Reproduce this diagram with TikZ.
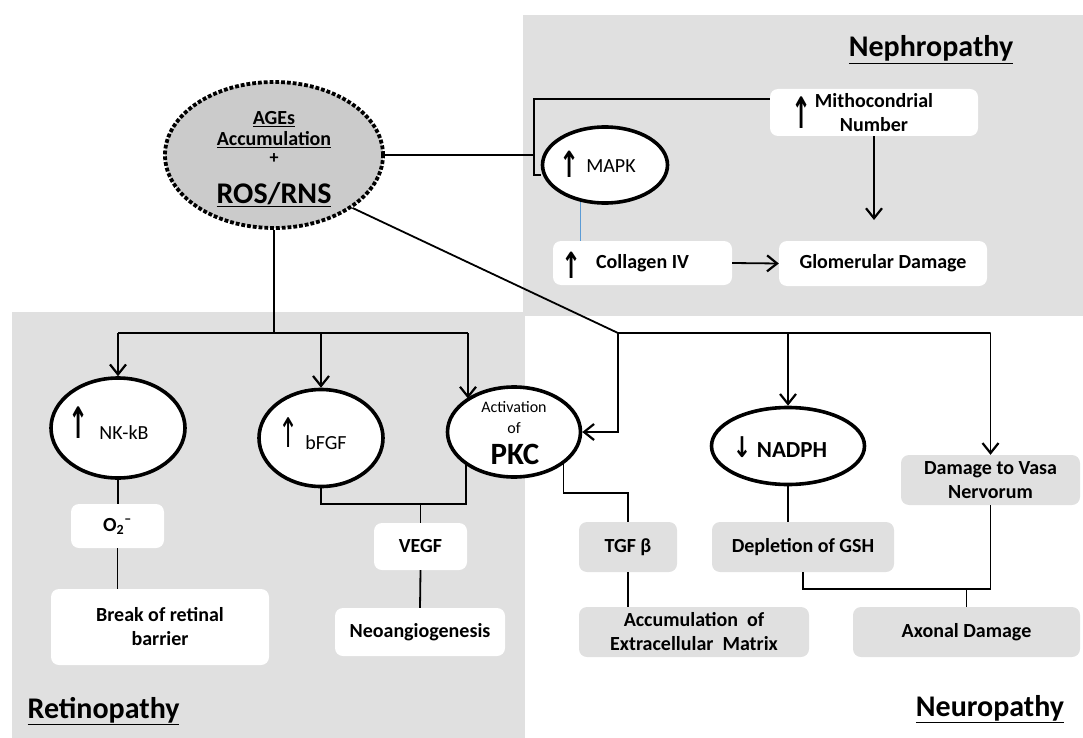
\documentclass[tikz,border=0pt]{standalone}
\usepackage{fontspec}
\setmainfont{Carlito}
\newfontfamily\djv{DejaVu Sans}
\usetikzlibrary{shapes.geometric,arrows.meta}
\definecolor{regiongray}{HTML}{E0E0E0}
\definecolor{rosgray}{HTML}{CBCBCB}
\definecolor{linkblue}{HTML}{5B9BD5}
\newcommand\fsz[2]{\fontsize{#1}{#2}\selectfont}
\newcommand\tallarrow[2]{\scalebox{1}[#1]{#2}}
\begin{document}
\begin{tikzpicture}[x=1pt,y=-1pt,
  conn/.style={line width=1.8pt},
  arr/.style={conn,-{Straight Barb[length=10pt,width=16pt,line width=2.2pt]}},
  oval/.style={ellipse,draw,line width=3.6pt,fill=white,inner sep=0pt},
  wbox/.style={rectangle,rounded corners=8pt,fill=white,inner sep=0pt,align=center,font=\fsz{20}{24}\bfseries},
  gbox/.style={wbox,fill=regiongray},
  upa/.style={inner sep=0pt,font=\fsz{24}{24}\djv\bfseries},
  lbl/.style={inner sep=0pt,anchor=base},
  region/.style={inner sep=0pt,anchor=base,font=\fsz{30}{34}\bfseries}
]
\useasboundingbox (0,0) rectangle (1083,738);
% regions
\fill[regiongray] (523,15) rectangle (1083,316);
\fill[regiongray] (12,312) rectangle (525,738);

% central node
\node[ellipse,fill=rosgray,draw,dotted,line width=3.8pt,minimum width=218pt,minimum height=146pt,inner sep=0pt] (ros) at (274,155) {};
\node[lbl,font=\fsz{20}{22}\bfseries] (agesT) at (274,125) {\underline{AGEs}};
\node[lbl,font=\fsz{20}{22}\bfseries] (accT) at (274,146) {\underline{Accumulation}};
\node[lbl,font=\fsz{18}{20}\bfseries] (plusT) at (274,164) {+};
\node[lbl,font=\fsz{30}{32}\bfseries] (rosT) at (274,203) {\underline{ROS/RNS}};

% Nephropathy
\node[region] (nephT) at (931,57) {\underline{Nephropathy}};
\node[oval,minimum width=125pt,minimum height=76pt] (mapk) at (605,165) {};
\node[upa] (mapkA) at (570,164) {\tallarrow{1.5}{↑}};
\node[lbl,font=\fsz{20}{22}] (mapkT) at (611,173) {MAPK};
\node[wbox,minimum width=208pt,minimum height=47pt] (mito) at (874,112.5) {Mithocondrial\\Number};
\node[upa] (mitoA) at (802,113) {\tallarrow{1.8}{↑}};
\node[wbox,minimum width=179pt,minimum height=44pt] (coll) at (642.5,263) {Collagen IV};
\node[upa] (collA) at (572,265) {\tallarrow{1.5}{↑}};
\node[wbox,minimum width=208pt,minimum height=45pt] (glom) at (883,263.5) {Glomerular Damage};
\coordinate (bt) at (534,99);
\coordinate (bb) at (534,175);
\coordinate (gtip) at (874,220);
\draw[conn] (ros.east) -- (ros.east -| bt);
\draw[conn] (mito.west |- bt) -- (bt) -- (bb) -- (mapk.west |- bb);
\draw[arr] (mito.south) -- (gtip);
\draw[arr] (coll.east) -- (glom.west);
\draw[linkblue,line width=1.2pt] (mapk.236) -- (mapk.236 |- coll.north);

% Retinopathy
\node[region] (retT) at (103.5,718) {\underline{Retinopathy}};
\node[oval,minimum width=134pt,minimum height=100pt] (nfkb) at (118,428) {};
\node[upa] (nfkbA) at (79,423) {\tallarrow{1.8}{↑}};
\node[lbl,font=\fsz{20}{22}] (nfkbT) at (124,439) {NK-kB};
\node[oval,minimum width=124pt,minimum height=97pt] (bfgf) at (321,438) {};
\node[upa,font=\fsz{24}{24}\djv] (bfgfA) at (289,433) {\tallarrow{1.7}{↑}};
\node[lbl,font=\fsz{20}{22}] (bfgfT) at (326,449) {bFGF};
\node[oval,minimum width=133pt,minimum height=90pt] (pkc) at (514,432) {};
\node[lbl,font=\fsz{16}{18}] (actT) at (514,412) {Activation};
\node[lbl,font=\fsz{16}{18}] (ofT) at (514,433) {of};
\node[lbl,font=\fsz{31}{34}\bfseries] (pkcT) at (515,464) {PKC};
\node[wbox,minimum width=93pt,minimum height=44pt] (o2) at (117.5,526) {O\textsubscript{2}\textsuperscript{–}};
\node[wbox,minimum width=218pt,minimum height=76pt] (brk) at (160,627) {Break of retinal\\barrier};
\node[wbox,minimum width=93pt,minimum height=47pt] (vegf) at (420.5,546.5) {VEGF};
\node[wbox,minimum width=170pt,minimum height=48pt] (neo) at (420,632) {Neoangiogenesis};
\coordinate (rj) at (274,333);
\coordinate (pj) at (468,333);
\coordinate (vj2) at (0,504);
\draw[conn] (ros.south) -- (rj);
\draw[conn] (nfkb.north |- rj) -- (pj);
\draw[arr] (nfkb.north |- rj) -- (nfkb.north);
\draw[arr] (bfgf.north |- rj) -- (bfgf.north);
\draw[arr] (pj) -- (pj |- pkc.145);
\draw[conn] (nfkb.south) -- (o2.north -| nfkb.south);
\draw[conn] (o2.south) -- (o2.south |- brk.north);
\draw[conn] (bfgf.south) |- (pkc.215 |- vj2) -- (pkc.215);
\draw[conn] (vegf.north |- vj2) -- (vegf.north);
\draw[conn] (vegf.south) -- (neo.north);

% Neuropathy
\node[region] (neuT) at (990,716) {\underline{Neuropathy}};
\node[oval,minimum width=153pt,minimum height=77pt] (nadph) at (788,446) {};
\node[upa,font=\fsz{22}{22}\djv\bfseries] (nadphA) at (742,447) {\tallarrow{1.3}{↓}};
\node[lbl,font=\fsz{23}{26}\bfseries] (nadphT) at (792,457) {NADPH};
\node[gbox,minimum width=179pt,minimum height=50pt] (vasa) at (990.5,480) {Damage to Vasa\\Nervorum};
\node[gbox,minimum width=98pt,minimum height=50pt] (tgf) at (628,547) {TGF β};
\node[gbox,minimum width=182pt,minimum height=50pt] (gsh) at (803,547) {Depletion of GSH};
\node[gbox,minimum width=230pt,minimum height=50pt] (ecm) at (694,632) {Accumulation\ \ of\\Extracellular\ \ Matrix};
\node[gbox,minimum width=227pt,minimum height=50pt] (axon) at (966.5,632) {Axonal Damage};
\coordinate (nj) at (618,333);
\coordinate (tj) at (0,493);
\coordinate (aj) at (0,589);
\draw[conn] (ros.-34) -- (nj) -- (vasa.north |- nj);
\draw[arr] (nj) |- (pkc.east);
\draw[arr] (nadph.north |- nj) -- (nadph.north);
\draw[arr] (vasa.north |- nj) -- (vasa.north);
\draw[conn] (pkc.-33) -- (pkc.-33 |- tj) -| (tgf.north);
\draw[conn] (tgf.south) -- (tgf.south |- ecm.north);
\draw[conn] (nadph.south) -- (nadph.south |- gsh.north);
\draw[conn] (gsh.south) |- (vasa.south |- aj) -- (vasa.south);
\draw[conn] (axon.north |- aj) -- (axon.north);
\end{tikzpicture}
\end{document}
